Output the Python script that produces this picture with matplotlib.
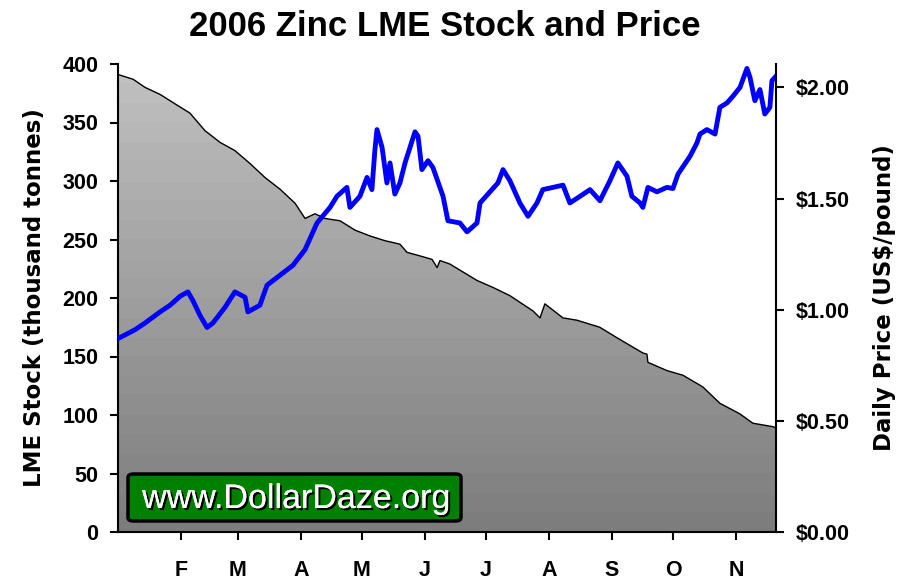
import matplotlib
matplotlib.use("Agg")
import matplotlib.pyplot as plt
import matplotlib.patheffects as pe
from matplotlib.patches import FancyBboxPatch
import numpy as np

# LME zinc stock, thousand tonnes (day of year 2006)
stock_day = [0, 7.4, 13.3, 20.7, 28, 35.4, 42.8, 50.2, 57.5, 64.9, 72.3, 79.7, 87.1,
             92, 96.9, 101.8, 109.2, 116.6, 124, 131.3, 138.7, 142.2, 148.5, 154.5,
             157, 158.4, 163.3, 176.6, 184.5, 192.8, 204.1, 207.6, 210, 218.9, 225.8,
             237, 245.5, 258.2, 260.2, 260.7, 270, 277.9, 287.7, 296.1, 305.9, 312.3,
             322.2, 323.7]
stock_val = [391, 387, 380, 374, 366, 358, 343, 333, 326, 315, 303, 293, 281,
             268, 272, 268, 266, 258, 253, 249, 246, 239, 236, 233,
             226, 232, 229, 215, 209, 202, 189, 183, 195, 183, 181,
             175, 166, 153, 152, 145, 138, 134, 124, 110, 101, 93,
             90, 89]

# daily zinc price, US$/pound
price_day = [0, 8.4, 13.3, 20.7, 25.6, 30.5, 34.4, 36.9, 40.3, 43.8, 46.7, 52.6, 57.5,
             62.5, 63.9, 69.8, 73.3, 79.7, 86.1, 92, 97.9, 104.3, 107.7, 112.6, 114.1,
             119, 122.5, 124.9, 126.4, 127.4, 129.9, 132.3, 133.8, 136.2, 138.7, 141.2,
             146.1, 147.6, 149.5, 152.5, 154.9, 159.9, 162.3, 168.2, 171.7, 176.6,
             178.1, 182, 186.9, 189.4, 192.8, 197.7, 201.7, 206.1, 209, 214, 218.9,
             222.3, 227.3, 232.2, 237.1, 242, 245.9, 250.4, 252.8, 256.8, 258.2,
             260.7, 265.1, 270, 273, 275.5, 281.4, 284.8, 286.3, 289.7, 293.7, 296.1,
             299.6, 302.5, 306, 309.4, 310.9, 313.3, 315.8, 318.2, 320.7, 321.7, 323.7]
price_val = [0.87, 0.91, 0.94, 0.99, 1.02, 1.06, 1.08, 1.04, 0.975, 0.92, 0.94, 1.01, 1.08,
             1.056, 0.99, 1.02, 1.11, 1.155, 1.20, 1.27, 1.39, 1.46, 1.51, 1.55, 1.46,
             1.51, 1.595, 1.54, 1.72, 1.81, 1.73, 1.57, 1.66, 1.52, 1.57, 1.66,
             1.80, 1.78, 1.63, 1.67, 1.64, 1.51, 1.40, 1.39, 1.35, 1.39,
             1.48, 1.52, 1.57, 1.63, 1.58, 1.48, 1.42, 1.48, 1.54, 1.55, 1.56,
             1.48, 1.51, 1.54, 1.49, 1.58, 1.66, 1.60, 1.51, 1.48, 1.46,
             1.55, 1.53, 1.55, 1.545, 1.61, 1.69, 1.75, 1.79, 1.81, 1.79, 1.91,
             1.93, 1.96, 2.00, 2.085, 2.045, 1.94, 1.99, 1.88, 1.91, 2.03, 2.05]

month_start = [31, 59, 90, 120, 151, 181, 212, 243, 273, 304]
month_labels = ["F", "M", "A", "M", "J", "J", "A", "S", "O", "N"]
stock_ticks = [0, 50, 100, 150, 200, 250, 300, 350, 400]
price_ticks = [0, 0.5, 1.0, 1.5, 2.0]

plt.rcParams['font.family'] = ['Liberation Sans', 'DejaVu Sans']

fig = plt.figure(figsize=(9.08, 5.8), dpi=100)
ax = fig.add_axes([118 / 908, 1 - 532 / 580, 658 / 908, 468 / 580])
xmax = stock_day[-1]

# gray gradient fill under the stock line, clipped to the area
poly = ax.fill_between(stock_day, stock_val, 0, facecolor='none', edgecolor='none')
grad = np.linspace(0.75, 0.49, 24).reshape(-1, 1)
img = ax.imshow(grad, cmap='gray', vmin=0, vmax=1, aspect='auto',
                extent=[0, xmax, 0, 400], origin='upper', interpolation='nearest')
img.set_clip_path(poly.get_paths()[0], transform=ax.transData)
ax.plot(stock_day, stock_val, color='black', lw=1.0)

ax.set_xlim(0, xmax)
ax.set_ylim(0, 400)
ax.set_yticks(stock_ticks)
ax.set_xticks(month_start)
ax.set_xticklabels(month_labels)
ax.spines['top'].set_visible(False)
ax.spines['right'].set_visible(False)
for s in ('left', 'bottom'):
    ax.spines[s].set_linewidth(1.5)
ax.tick_params(axis='y', direction='out', length=6, width=1.5, labelsize=15.5, pad=8)
ax.tick_params(axis='x', direction='out', length=6, width=1.5, labelsize=15.5, pad=14)
for lab in ax.get_xticklabels() + ax.get_yticklabels():
    lab.set_fontweight('bold')
ax.set_ylabel("LME Stock (thousand tonnes)", fontsize=16.5, fontweight='bold',
              family='DejaVu Sans', labelpad=12)

ax2 = ax.twinx()
ax2.plot(price_day, price_val, color='#0000ff', lw=3.5)
ax2.set_ylim(0, 2.105)
ax2.set_yticks(price_ticks)
ax2.set_yticklabels([f"${v:.2f}" for v in price_ticks])
ax2.spines['top'].set_visible(False)
ax2.spines['left'].set_visible(False)
ax2.spines['bottom'].set_visible(False)
ax2.spines['right'].set_linewidth(1.5)
ax2.tick_params(axis='y', direction='out', length=6, width=1.5, labelsize=15.5, pad=8)
for lab in ax2.get_yticklabels():
    lab.set_fontweight('bold')
ax2.set_ylabel("Daily Price (US$/pound)", fontsize=16.5, fontweight='bold',
               family='DejaVu Sans', labelpad=17)

fig.text(445 / 908, 1 - 27 / 580, "2006 Zinc LME Stock and Price", ha='center', va='center',
         fontsize=25, fontweight='bold')

# watermark box
box = FancyBboxPatch((128 / 908, 1 - 521 / 580), 333 / 908, 47 / 580,
                     boxstyle="round,pad=0,rounding_size=0.006", transform=fig.transFigure,
                     facecolor='#008000', edgecolor='black', lw=2.5, zorder=5)
fig.patches.append(box)
fig.text(296 / 908, 1 - 508 / 580, "www.DollarDaze.org", ha='center', va='baseline',
         fontsize=24.5, color='white', zorder=6,
         path_effects=[pe.withSimplePatchShadow(offset=(1.5, -1.5), shadow_rgbFace='black', alpha=1),
                       pe.Normal()])

fig.savefig("out.png", dpi=100)
